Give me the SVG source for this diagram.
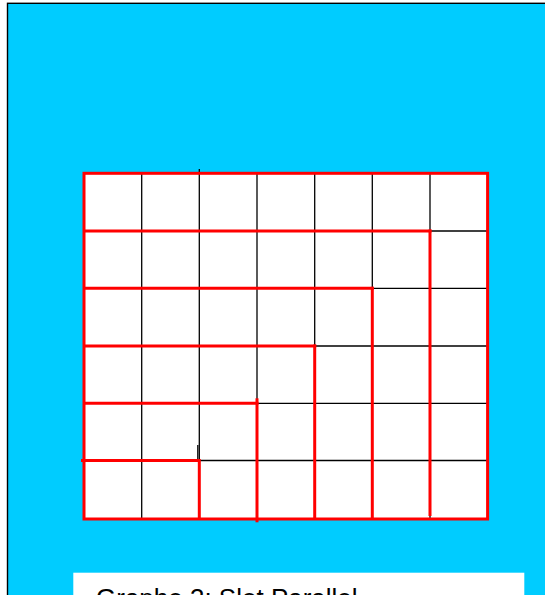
<svg xmlns="http://www.w3.org/2000/svg" width="545" height="595" viewBox="0 0 545 595">
<style>
.bg{fill:#00CCFF;stroke:#000;stroke-width:1.4}
.cell{fill:#fff}
.grid line{stroke:#000;stroke-width:1.3}
.path line,.path rect{stroke:#FF0000;stroke-width:3;fill:none}
.label{font-family:"Liberation Sans",Arial,sans-serif;font-size:26px;fill:#000}
</style>
<rect class="bg" x="7.5" y="3.3" width="560" height="620"/>
<g id="board">
<rect class="cell" x="84" y="173.3" width="403.6" height="345.7"/>
</g>
<g id="grid" class="grid">
<line x1="141.7" y1="173.3" x2="141.7" y2="519"/>
<line x1="199.3" y1="169" x2="199.3" y2="519"/>
<line x1="197.8" y1="445" x2="197.8" y2="460.5"/>
<line x1="257" y1="173.3" x2="257" y2="519"/>
<line x1="314.7" y1="173.3" x2="314.7" y2="519"/>
<line x1="372.3" y1="173.3" x2="372.3" y2="519"/>
<line x1="430" y1="173.3" x2="430" y2="519"/>
<line x1="84" y1="231" x2="487.6" y2="231"/>
<line x1="84" y1="288.3" x2="487.6" y2="288.3"/>
<line x1="84" y1="346" x2="487.6" y2="346"/>
<line x1="84" y1="403.3" x2="487.6" y2="403.3"/>
<line x1="84" y1="460.5" x2="487.6" y2="460.5"/>
</g>
<g id="connectors" class="path">
<rect x="84" y="173.3" width="403.6" height="345.7"/>
<line x1="84" y1="231" x2="431.5" y2="231"/>
<line x1="430" y1="229.5" x2="430" y2="516"/>
<line x1="84" y1="288.3" x2="373.8" y2="288.3"/>
<line x1="372.3" y1="286.8" x2="372.3" y2="519"/>
<line x1="84" y1="346" x2="316.2" y2="346"/>
<line x1="314.7" y1="344.5" x2="314.7" y2="519"/>
<line x1="84" y1="403.3" x2="258.5" y2="403.3"/>
<line x1="257" y1="398.3" x2="257" y2="522.3"/>
<line x1="81" y1="460.5" x2="199" y2="460.5"/>
<line x1="199.3" y1="459" x2="199.3" y2="519"/>
</g>
<g id="caption">
<rect x="73.3" y="572.7" width="451" height="40" fill="#fff"/>
<text class="label" x="96" y="607">Graphe 3: Slot Parallel</text>
</g>
</svg>
